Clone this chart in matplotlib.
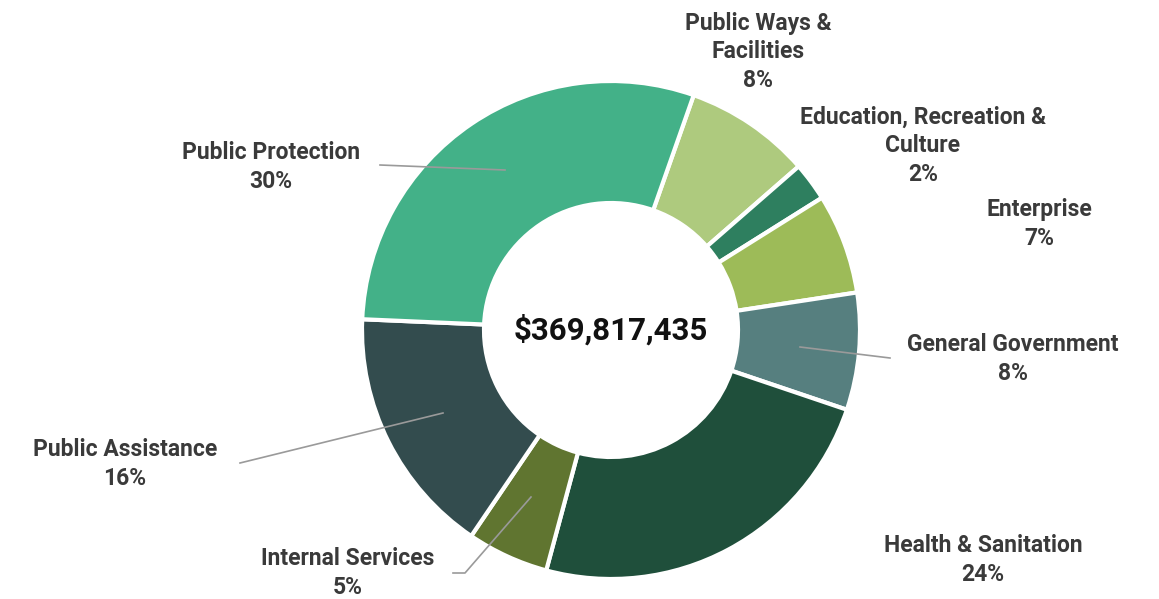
import matplotlib
matplotlib.use("Agg")
import matplotlib.pyplot as plt

categorias = ["Public Ways &\nFacilities", "Education, Recreation &\nCulture", "Enterprise",
              "General Government", "Health & Sanitation", "Internal Services",
              "Public Assistance", "Public Protection"]
participacao = [8.2, 2.5, 6.5, 7.6, 24.0, 5.3, 16.2, 29.7]
percentual_rotulo = [8, 2, 7, 8, 24, 5, 16, 30]
cores = ["#AECA7E", "#2E7F5F", "#9DBB58", "#567F7F", "#1F4F3B", "#607530", "#334C4E", "#43B188"]
total = "$369,817,435"

W, H = 1159, 599
fig = plt.figure(figsize=(W / 100, H / 100), dpi=100)
ax = fig.add_axes([0, 0, 1, 1])

cx, cy, r = 611, H - 330, 249
ax.pie(participacao, colors=cores, startangle=70.6, counterclock=False,
       center=(cx, cy), radius=r, frame=True,
       wedgeprops=dict(width=r * 0.49, edgecolor="white", linewidth=3))
ax.set_xlim(0, W)
ax.set_ylim(0, H)
ax.set_aspect("equal")
ax.axis("off")

ax.text(cx, cy, total, ha="center", va="center", fontsize=22.5,
        fontweight="bold", family="Roboto", color="#111111")

# posicao dos rotulos (pixels, origem no canto superior)
pos_rotulos = [(758, 52), (923, 146), (1039, 224), (1013, 359), (983, 560),
               (348, 573), (125, 464), (271, 167)]
for nome, pct, (x, y) in zip(categorias, percentual_rotulo, pos_rotulos):
    ax.text(x, H - y, f"{nome}\n{pct}%", ha="center", va="center", fontsize=16.5,
            fontweight="bold", family="Roboto", color="#3a3a3a", linespacing=1.3)

# linhas de chamada
linhas = [
    [(380, 165), (505, 170)],
    [(240, 463), (443, 413)],
    [(800, 347), (890, 358)],
    [(453, 573), (465, 573), (531, 497)],
]
for pts in linhas:
    xs = [p[0] for p in pts]
    ys = [H - p[1] for p in pts]
    ax.plot(xs, ys, color="#9a9a9a", lw=1.2)

fig.savefig("out.png", dpi=100, facecolor="white")
